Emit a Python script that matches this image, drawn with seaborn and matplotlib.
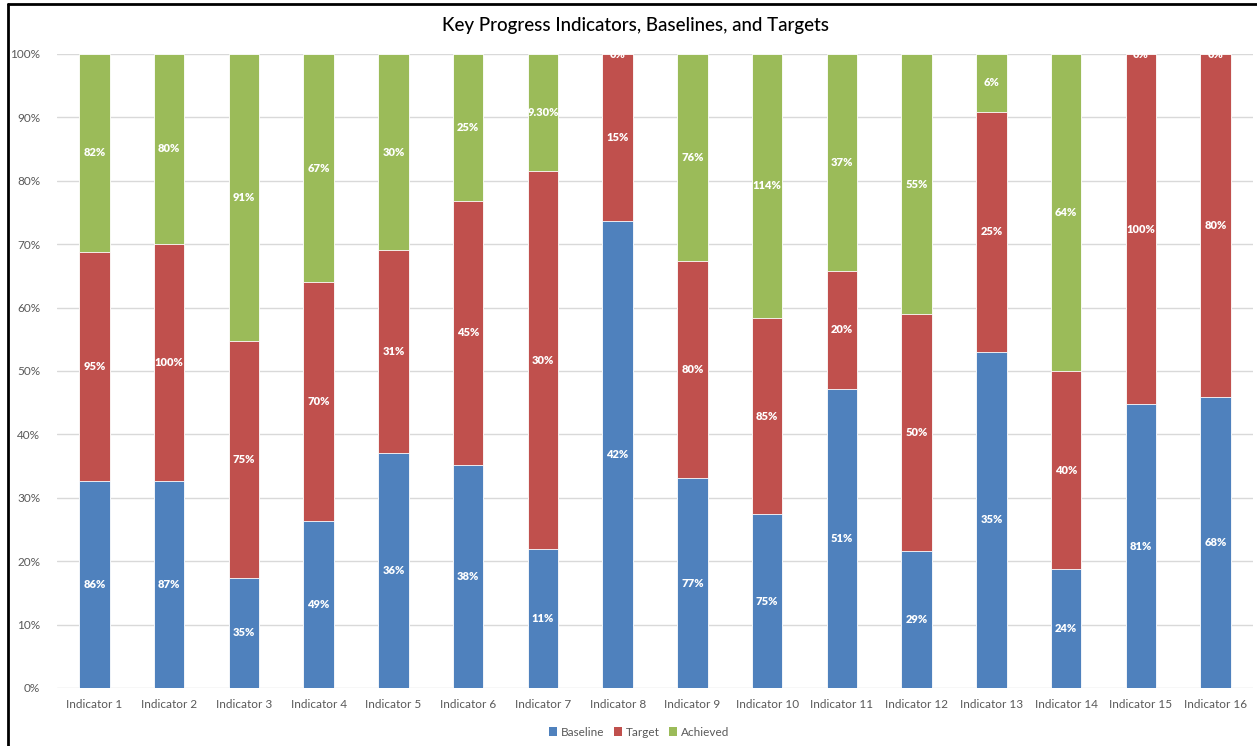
import numpy as np
import pandas as pd
import matplotlib
matplotlib.use("Agg")
import matplotlib.pyplot as plt
from matplotlib.patches import Patch
from matplotlib.lines import Line2D
from matplotlib.ticker import PercentFormatter
import seaborn as sns

categories = [f"Indicator {i}" for i in range(1, 17)]
baseline = [86, 87, 35, 49, 36, 38, 11, 42, 77, 75, 51, 29, 35, 24, 81, 68]
target = [95, 100, 75, 70, 31, 45, 30, 15, 80, 85, 20, 50, 25, 40, 100, 80]
achieved = [82, 80, 91, 67, 30, 25, 9.30, 0, 76, 114, 37, 55, 6, 64, 0, 0]
achieved_labels = ["82%", "80%", "91%", "67%", "30%", "25%", "9.30%", "0%", "76%",
                   "114%", "37%", "55%", "6%", "64%", "0%", "0%"]
series_names = ["Baseline", "Target", "Achieved"]
colors = ["#4F81BD", "#C0504D", "#9BBB59"]

sns.set_theme(style="white")
plt.rcParams['font.family'] = ['Lato', 'DejaVu Sans']

b = np.array(baseline, float)
t = np.array(target, float)
a = np.array(achieved, float)
tot = b + t + a
pb = b / tot * 100
pt = t / tot * 100
pa = a / tot * 100

df = pd.DataFrame({
    "cat": categories,
    "cum1": pb,
    "cum2": pb + pt,
    "cum3": pb + pt + pa,
})

fig = plt.figure(figsize=(12.57, 7.46), dpi=100)
ax = fig.add_axes([57/1257, 1-688/746, (1253-57)/1257, (688-54)/746])

for col, c in zip(["cum3", "cum2", "cum1"], colors[::-1]):
    sns.barplot(data=df, x="cat", y=col, color=c, width=0.41, ax=ax,
                edgecolor="white", linewidth=0.6, saturation=1)

ax.set_ylim(0, 100)
ax.set_xlim(-0.5, 15.5)
ax.set_yticks(np.arange(0, 101, 10))
ax.yaxis.set_major_formatter(PercentFormatter(decimals=0))
ax.grid(axis="y", color="#D9D9D9", linewidth=1)
ax.set_axisbelow(True)
for s in ax.spines.values():
    s.set_visible(False)
ax.set_xlabel("")
ax.set_ylabel("")
ax.tick_params(axis="both", length=0, labelsize=8.5, labelcolor="#595959")
ax.tick_params(axis="y", pad=12)
ax.tick_params(axis="x", pad=8)

lbl_kw = dict(ha="center", va="center", color="white", fontsize=8,
              fontweight="heavy", clip_on=True)
for i in range(len(categories)):
    ax.text(i, pb[i] / 2, f"{baseline[i]:g}%", **lbl_kw)
    ax.text(i, pb[i] + pt[i] / 2, f"{target[i]:g}%", **lbl_kw)
    ax.text(i, pb[i] + pt[i] + pa[i] / 2, achieved_labels[i], **lbl_kw)

fig.text(636/1257, 1-26/746, "Key Progress Indicators, Baselines, and Targets",
         ha="center", va="center", fontsize=13.5, color="#000000", fontweight="medium")

handles = [Patch(facecolor=c, edgecolor="none", label=n) for c, n in zip(colors, series_names)]
fig.legend(handles=handles, loc="center", bbox_to_anchor=(639/1257, 1-732/746),
           ncol=3, frameon=False, fontsize=8.5, handlelength=0.7, handleheight=0.7,
           handletextpad=0.3, columnspacing=0.8, labelcolor="#595959")

fig.add_artist(Line2D([8/1257, 8/1257], [0, 1-4/746], transform=fig.transFigure,
                      color="black", linewidth=2))
fig.add_artist(Line2D([8/1257, 1], [1-4/746, 1-4/746], transform=fig.transFigure,
                      color="black", linewidth=2))

fig.savefig("out.png", dpi=100)
